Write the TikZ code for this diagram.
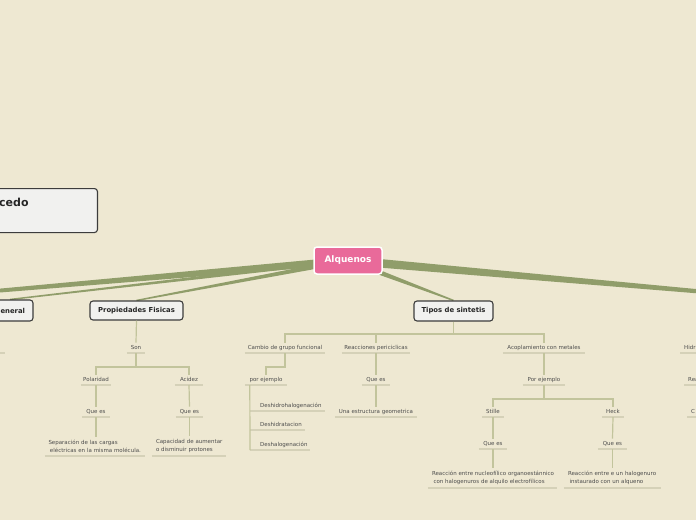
\documentclass[tikz,border=0pt]{standalone}
\usepackage{fontspec}
\setmainfont{DejaVu Sans}
\usetikzlibrary{calc,backgrounds}
\definecolor{bgc}{HTML}{EEE8D2}
\definecolor{olivec}{HTML}{909D6A}
\definecolor{conncol}{HTML}{C2C49C}
\definecolor{ulcol}{HTML}{D5D1B8}
\definecolor{txtc}{HTML}{4D4D4D}
\definecolor{pinkc}{HTML}{E96A9A}
\definecolor{boxfill}{HTML}{F1F1EF}
\definecolor{boxdraw}{HTML}{3C3C3C}
\newcommand\lf{\fontsize{5.5}{8}\selectfont}
\newcommand\taper[4]{\fill[olivec] ($(#1)!#3!90:(#2)$) -- ($(#2)!#4!-90:(#1)$) -- ($(#2)!#4!90:(#1)$) -- ($(#1)!#3!-90:(#2)$) -- cycle;}
\tikzset{
  ulc/.style={draw=ulcol, line width=1.4pt},
  conn/.style={draw=conncol, line width=1.2pt},
  lab/.style={font=\lf, text=txtc, inner sep=0pt, minimum height=10pt, anchor=south,
    append after command={(\tikzlastnode.south west) edge[ulc] (\tikzlastnode.south east)}},
  mlab/.style={lab, align=left, inner ysep=3pt, inner xsep=0pt, minimum height=0pt},
  topic/.style={draw=boxdraw, fill=boxfill, line width=1.1pt, rounded corners=3pt,
    font=\fontsize{6.85}{8}\selectfont\bfseries, text=black!85, inner sep=0pt},
  central/.style={draw=white, fill=pinkc, line width=1.5pt, rounded corners=3pt,
    font=\fontsize{9}{10}\selectfont\bfseries, text=white, inner sep=0pt,
    minimum width=68pt, minimum height=27pt}
}
\begin{document}
\begin{tikzpicture}[x=1pt,y=-1pt]
\useasboundingbox (0,0) rectangle (696,520);

% floating box at top left
\node[topic, anchor=north east, minimum width=160pt, minimum height=44pt] (cb) at (98,188) {};
\node[font=\fontsize{11}{12}\selectfont\bfseries, text=black!85, anchor=west, inner sep=0pt] (cbt) at (-1,202) {cedo};

% main nodes
\node[central] (alq) at (348,260.5) {Alquenos};
\coordinate (lfar) at (-40,294);
\coordinate (rfar) at (740,295);
\node[topic, minimum width=46pt, minimum height=21pt] (gen) at (10,310.5) {General};
\node[topic, minimum width=93pt, minimum height=19pt] (pf) at (136.5,310.5) {Propiedades Fisicas};
\node[topic, minimum width=79pt, minimum height=20pt] (ts) at (453.5,311) {Tipos de sintetis};

% background and tapered branches
\begin{scope}[on background layer]
\fill[bgc] (0,0) rectangle (696,520);
\taper{alq.center}{lfar}{4pt}{1.7pt}
\taper{alq.center}{rfar}{4.5pt}{1.8pt}
\taper{alq.center}{gen.north}{2pt}{0.7pt}
\taper{alq.center}{pf.north}{2.5pt}{0.7pt}
\taper{alq.center}{ts.north}{3pt}{0.7pt}
\end{scope}

% left edge fragment
\node[lab, minimum width=15pt] (lfrag) at (-2.5,353) {};

% Propiedades Fisicas subtree
\node[lab, minimum width=18pt] (son) at (136,353) {Son};
\node[lab, minimum width=30pt] (pol) at (96,385) {Polaridad};
\node[lab, minimum width=28pt] (aci) at (189,385) {Acidez};
\node[lab, minimum width=28pt] (pq) at (96,417) {Que es};
\node[lab, minimum width=27pt] (aq) at (189.5,417) {Que es};
\node[mlab, text width=100pt] (sep) at (95,456) {\mbox{\hspace*{3.5pt}Separación de las cargas}\\\mbox{\hspace*{5pt}eléctricas en la misma molécula.}};
\node[mlab, text width=74pt] (cap) at (189,456) {\mbox{\hspace*{4pt}Capacidad de aumentar}\\\mbox{\hspace*{4pt}o disminuir protones}};
\coordinate (sonj) at (136,367);
\draw[conn] (pf.south) -- (son.north);
\draw[conn] (son.south) -- (sonj);
\draw[conn] (pol.north) |- (sonj) -| (aci.north);
\draw[conn] (pol.south) -- (pq.north);
\draw[conn] (aci.south) -- (aq.north);
\draw[conn] (pq.south) -- (pq.south |- sep.north);
\draw[conn] (aq.south) -- (aq.south |- cap.north);

% Tipos de sintetis subtree
\node[lab, minimum width=80pt] (cg) at (285,353) {Cambio de grupo funcional};
\node[lab, minimum width=68pt] (rp) at (376,353) {Reacciones periciclicas};
\node[lab, minimum width=82pt] (acm) at (544,353) {Acoplamiento con metales};
\coordinate (tsj) at (453.5,334);
\draw[conn] (ts.south) -- (tsj);
\draw[conn] (cg.north) |- (tsj) -| (acm.north);
\draw[conn] (rp.north) -- (rp.north |- tsj);

\node[lab, minimum width=42pt] (pe) at (266,385) {por ejemplo};
\draw[conn] (cg.south) -- ++(0,14) -| (pe.north);
\node[lab, anchor=south west, text width=75pt, align=left] (d1) at (250,411) {\hspace*{10pt}Deshidrohalogenación};
\node[lab, anchor=south west, text width=55pt, align=left] (d2) at (250,430) {\hspace*{10pt}Deshidratacion};
\node[lab, anchor=south west, text width=60pt, align=left] (d3) at (250,450) {\hspace*{10pt}Deshalogenación};
\draw[conn] (pe.south west) ++(5,0) -- (d3.south west);

\node[lab, minimum width=28pt] (rq) at (376,385) {Que es};
\node[lab, minimum width=82pt] (ueg) at (376,417) {Una estructura geometrica};
\draw[conn] (rp.south) -- (rq.north);
\draw[conn] (rq.south) -- (ueg.north);

\node[lab, minimum width=42pt] (pe2) at (544,385) {Por ejemplo};
\node[lab, minimum width=22pt] (st) at (493,417) {Stille};
\node[lab, minimum width=22pt] (hk) at (613,417) {Heck};
\node[lab, minimum width=28pt] (sq) at (493,449) {Que es};
\node[lab, minimum width=29pt] (hq) at (612.5,449) {Que es};
\node[mlab, text width=129pt] (sr) at (492.5,488) {\mbox{\hspace*{4pt}Reacción entre nucleofílico organoestánnico}\\\mbox{\hspace*{5.5pt}con halogenuros de alquilo electrofílicos}};
\node[mlab, text width=97pt] (hr) at (612.5,488) {\mbox{\hspace*{4pt}Reacción entre e un halogenuro}\\\mbox{\hspace*{5.5pt}instaurado con un alqueno}};
\coordinate (acj) at (544,399);
\draw[conn] (acm.south) -- (pe2.north);
\draw[conn] (pe2.south) -- (acj);
\draw[conn] (st.north) |- (acj) -| (hk.north);
\draw[conn] (st.south) -- (sq.north);
\draw[conn] (hk.south) -- (hq.north);
\draw[conn] (sq.south) -- (sq.south |- sr.north);
\draw[conn] (hq.south) -- (hq.south |- hr.north);

% right edge fragments
\node[lab, anchor=south west, text width=22pt, align=left] (rf1) at (680,353) {\hspace*{4pt}Hidr};
\node[lab, anchor=south west, text width=18pt, align=left] (rf2) at (684,385) {\hspace*{4pt}Rea};
\node[lab, anchor=south west, text width=15pt, align=left] (rf3) at (687,417) {\hspace*{4pt}C};
\end{tikzpicture}
\end{document}
